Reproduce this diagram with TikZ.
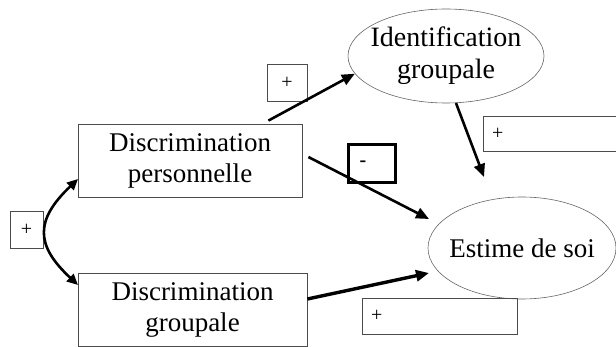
\documentclass[tikz,border=0pt]{standalone}
\usepackage{fontspec}
\setmainfont{Liberation Serif}
\usetikzlibrary{shapes.geometric,arrows.meta,calc}
\begin{document}
\begin{tikzpicture}[x=1pt,y=-1pt,
  mainbox/.style={draw=black!70,line width=0.8pt,rectangle,inner sep=0pt,align=center,font=\fontsize{27}{31}\selectfont},
  oval/.style={draw=black!60,line width=0.6pt,ellipse,inner xsep=-8pt,inner ysep=-2pt,align=center,font=\fontsize{28}{32}\selectfont},
  signbox/.style={draw=black!70,line width=0.7pt,rectangle,inner sep=0pt,font=\fontsize{20}{22}\selectfont},
  widesign/.style={signbox,inner xsep=9pt,align=left},
  arr/.style={line width=2.6pt,-{Triangle[length=13pt,width=11pt]}},
]
\useasboundingbox (0,0) rectangle (616,347);
% main nodes
\node[mainbox,minimum width=224pt,minimum height=73pt] (pers) at (190,160.5) {Discrimination\\personnelle};
\node[mainbox,minimum width=229pt,minimum height=73pt] (grp) at (192.5,309.5) {Discrimination\\groupale};
\node[oval,minimum width=196pt,minimum height=94pt] (ident) at (446,56) {Identification\\groupale};
\node[oval,minimum width=188pt,minimum height=102pt,inner xsep=-12pt,font=\fontsize{27}{31}\selectfont] (est) at (522,248) {Estime de soi};
% sign boxes
\node[signbox,minimum width=40pt,minimum height=37pt] (s1) at (287,82.5) {+};
\node[signbox,minimum width=33pt,minimum height=37pt] (s2) at (26.5,229.5) {+};
\node[widesign,minimum width=133pt,minimum height=35pt,text width=115pt] (s3) at (549.5,133.5) {+};
\node[widesign,minimum width=155pt,minimum height=36pt,text width=137pt] (s4) at (439.5,316) {+};
\node[draw=black,line width=3pt,rectangle,inner sep=0pt,inner xsep=11pt,align=left,
      minimum width=47pt,minimum height=38pt,text width=25pt,font=\fontsize{20}{22}\selectfont\bfseries] (s5) at (372,163.5) {-};
% free ends
\coordinate (a1s) at ($(pers.north east)+(-34,-3)$);
\coordinate (a2e) at (484,177);
\coordinate (a3s) at ($(pers.east)+(6,-3.5)$);
\coordinate (a3e) at (429,219);
\coordinate (a4e) at (429,273);
\coordinate (c1) at (78,179);
\coordinate (c2) at (78,285);
% connectors
\draw[arr] (a1s) -- (ident.191);
\draw[arr] (ident.282) -- (a2e);
\draw[arr] (a3s) -- (a3e);
\draw[arr,line width=3.4pt] ($(grp.east)+(0,-10.5)$) -- (a4e);
\draw[line width=2.6pt,{Triangle[length=11pt,width=10pt]}-{Triangle[length=11pt,width=10pt]}]
  (c1) .. controls (35,220) and (35,245) .. (c2);
\end{tikzpicture}
\end{document}
